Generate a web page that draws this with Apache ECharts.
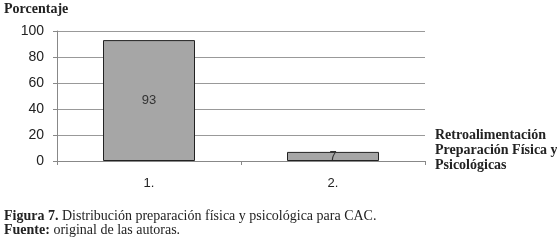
<!DOCTYPE html>
<html><head><meta charset="utf-8">
<script src="https://cdn.jsdelivr.net/npm/echarts@6/dist/echarts.min.js"></script>
<style>html,body{margin:0;padding:0;background:#fff}#c{width:557px;height:240px}</style>
</head><body><div id="c"></div>
<script>
const categories = ['1.', '2.'];
const values = [93, 7];
const yTicks = [0, 20, 40, 60, 80, 100];
const yTitle = 'Porcentaje';
const legendLines = ['Retroalimentación', 'Preparación Física y', 'Psicológicas'];

const chart = echarts.init(document.getElementById('c'), null, {renderer: 'canvas'});
const serif = '"Liberation Serif", "DejaVu Serif", serif';
const sans = '"Liberation Sans", Arial, sans-serif';
chart.setOption({
  animation: false,
  grid: {left: 57, right: 132, top: 31, bottom: 79},
  xAxis: {
    type: 'category', data: categories,
    axisLine: {lineStyle: {color: '#888'}},
    axisTick: {show: true, alignWithLabel: false, length: 4, lineStyle: {color: '#888'}},
    axisLabel: {color: '#222', fontFamily: sans, fontSize: 13, margin: 16}
  },
  yAxis: {
    type: 'value', min: yTicks[0], max: yTicks[yTicks.length - 1], interval: 20,
    axisLine: {show: true, lineStyle: {color: '#888'}},
    axisTick: {show: true, length: 4, lineStyle: {color: '#888'}},
    splitLine: {lineStyle: {color: '#999'}},
    axisLabel: {color: '#222', fontFamily: sans, fontSize: 14, margin: 13}
  },
  series: [{
    type: 'bar', data: values, barWidth: '50%',
    itemStyle: {color: '#a6a6a6', borderColor: '#222', borderWidth: 1},
    label: {show: true, position: 'inside', color: '#333', fontFamily: sans, fontSize: 13}
  }],
  graphic: [
    {type: 'text', left: 4, top: 2, style: {text: yTitle, font: 'bold 14px ' + serif, fill: '#222'}},
    {type: 'text', left: 435, top: 128, style: {text: legendLines.join('\n'), font: 'bold 14px ' + serif, fill: '#222', lineHeight: 15}},
    {type: 'text', left: 4, top: 209, style: {
      text: '{b|Figura 7.} Distribución preparación física y psicológica para CAC.\n{b|Fuente:} original de las autoras.',
      font: '14px ' + serif, fill: '#222', lineHeight: 14,
      rich: {b: {fontWeight: 'bold', fontFamily: serif, fontSize: 14, fill: '#222'}}
    }}
  ]
});
</script></body></html>
